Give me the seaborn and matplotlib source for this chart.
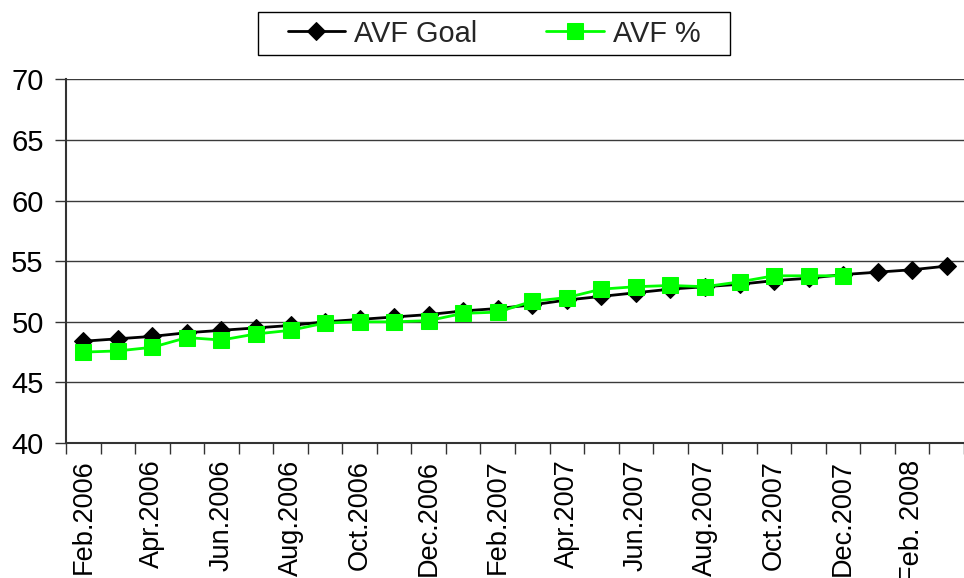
import numpy as np
import pandas as pd
import matplotlib
matplotlib.use("Agg")
import matplotlib.pyplot as plt
from matplotlib.patches import Rectangle
import seaborn as sns

months = ["Feb.2006", "Mar.2006", "Apr.2006", "May.2006", "Jun.2006", "Jul.2006",
          "Aug.2006", "Sep.2006", "Oct.2006", "Nov.2006", "Dec.2006", "Jan.2007",
          "Feb.2007", "Mar.2007", "Apr.2007", "May.2007", "Jun.2007", "Jul.2007",
          "Aug.2007", "Sep.2007", "Oct.2007", "Nov.2007", "Dec.2007", "Jan.2008",
          "Feb. 2008", "Mar.2008"]
avf_goal = [48.4, 48.6, 48.8, 49.1, 49.3, 49.5, 49.7, 50.0, 50.2, 50.4, 50.6, 50.9,
            51.1, 51.4, 51.8, 52.1, 52.4, 52.7, 52.9, 53.1, 53.4, 53.6, 53.9, 54.1,
            54.3, 54.6]
avf_pct = [47.5, 47.6, 47.9, 48.7, 48.5, 49.0, 49.3, 49.9, 50.0, 50.0, 50.1, 50.7,
           50.8, 51.7, 52.0, 52.7, 52.9, 53.0, 52.9, 53.3, 53.8, 53.8, 53.8]
shown_labels = ["Feb.2006", "Apr.2006", "Jun.2006", "Aug.2006", "Oct.2006", "Dec.2006",
                "Feb.2007", "Apr.2007", "Jun.2007", "Aug.2007", "Oct.2007", "Dec.2007",
                "Feb. 2008"]
y_ticks = [40, 45, 50, 55, 60, 65, 70]

sns.set_theme(style="white")
plt.rcParams["font.family"] = ["Liberation Sans", "DejaVu Sans"]

df_goal = pd.DataFrame({"month": months, "value": avf_goal})
df_pct = pd.DataFrame({"month": months[:len(avf_pct)], "value": avf_pct})

W, H = 964, 578
fig = plt.figure(figsize=(W / 100, H / 100), dpi=100)
ax = fig.add_axes([66 / W, 135 / H, 1 - 66 / W, (443 - 79.5) / H])

sns.lineplot(data=df_goal, x="month", y="value", sort=False, ax=ax,
             color="black", linewidth=2.0, marker="D", markersize=9.5,
             markeredgecolor="black", label="AVF Goal")
sns.lineplot(data=df_pct, x="month", y="value", sort=False, ax=ax,
             color="#00FF00", linewidth=2.0, marker="s", markersize=11,
             markeredgecolor="#00FF00", label="AVF %")

ax.set_ylim(40, 70)
ax.set_xlim(-0.5, 25.2)
ax.set_yticks(y_ticks)
ax.set_yticklabels([str(v) for v in y_ticks], fontsize=21, color="black")
ax.yaxis.grid(True, color="#3a3a3a", linewidth=1.0)
ax.set_axisbelow(True)

label_pos = [months.index(m) for m in shown_labels]
ax.set_xticks(label_pos)
ax.set_xticklabels(shown_labels, rotation=90, fontsize=19.5, color="black", va="top")
ax.set_xticks(np.arange(len(months) + 1) - 0.5, minor=True)
ax.tick_params(axis="x", which="major", length=0, pad=12)
ax.tick_params(axis="x", which="minor", length=8, width=1, color="#333333",
               direction="out", bottom=True)
ax.tick_params(axis="y", which="major", length=8, width=1, color="#333333",
               direction="out", left=True, pad=8)
ax.set_xlabel("")
ax.set_ylabel("")

for s in ["top", "right"]:
    ax.spines[s].set_visible(False)
for s in ["left", "bottom"]:
    ax.spines[s].set_color("#333333")
    ax.spines[s].set_linewidth(1.5)

leg = ax.legend(loc="center", bbox_to_anchor=(494 / W, 1 - 33.5 / H),
                bbox_transform=fig.transFigure, ncol=2, fontsize=20.8,
                frameon=False, handlelength=2.0, handletextpad=0.3,
                columnspacing=2.4, borderpad=0.3, borderaxespad=0)
fig.patches.append(Rectangle((258 / W, 1 - 55 / H), (730 - 258) / W, 43 / H,
                             transform=fig.transFigure, fill=False,
                             edgecolor="black", linewidth=1.0, zorder=5))

fig.savefig("out.png", dpi=100)
